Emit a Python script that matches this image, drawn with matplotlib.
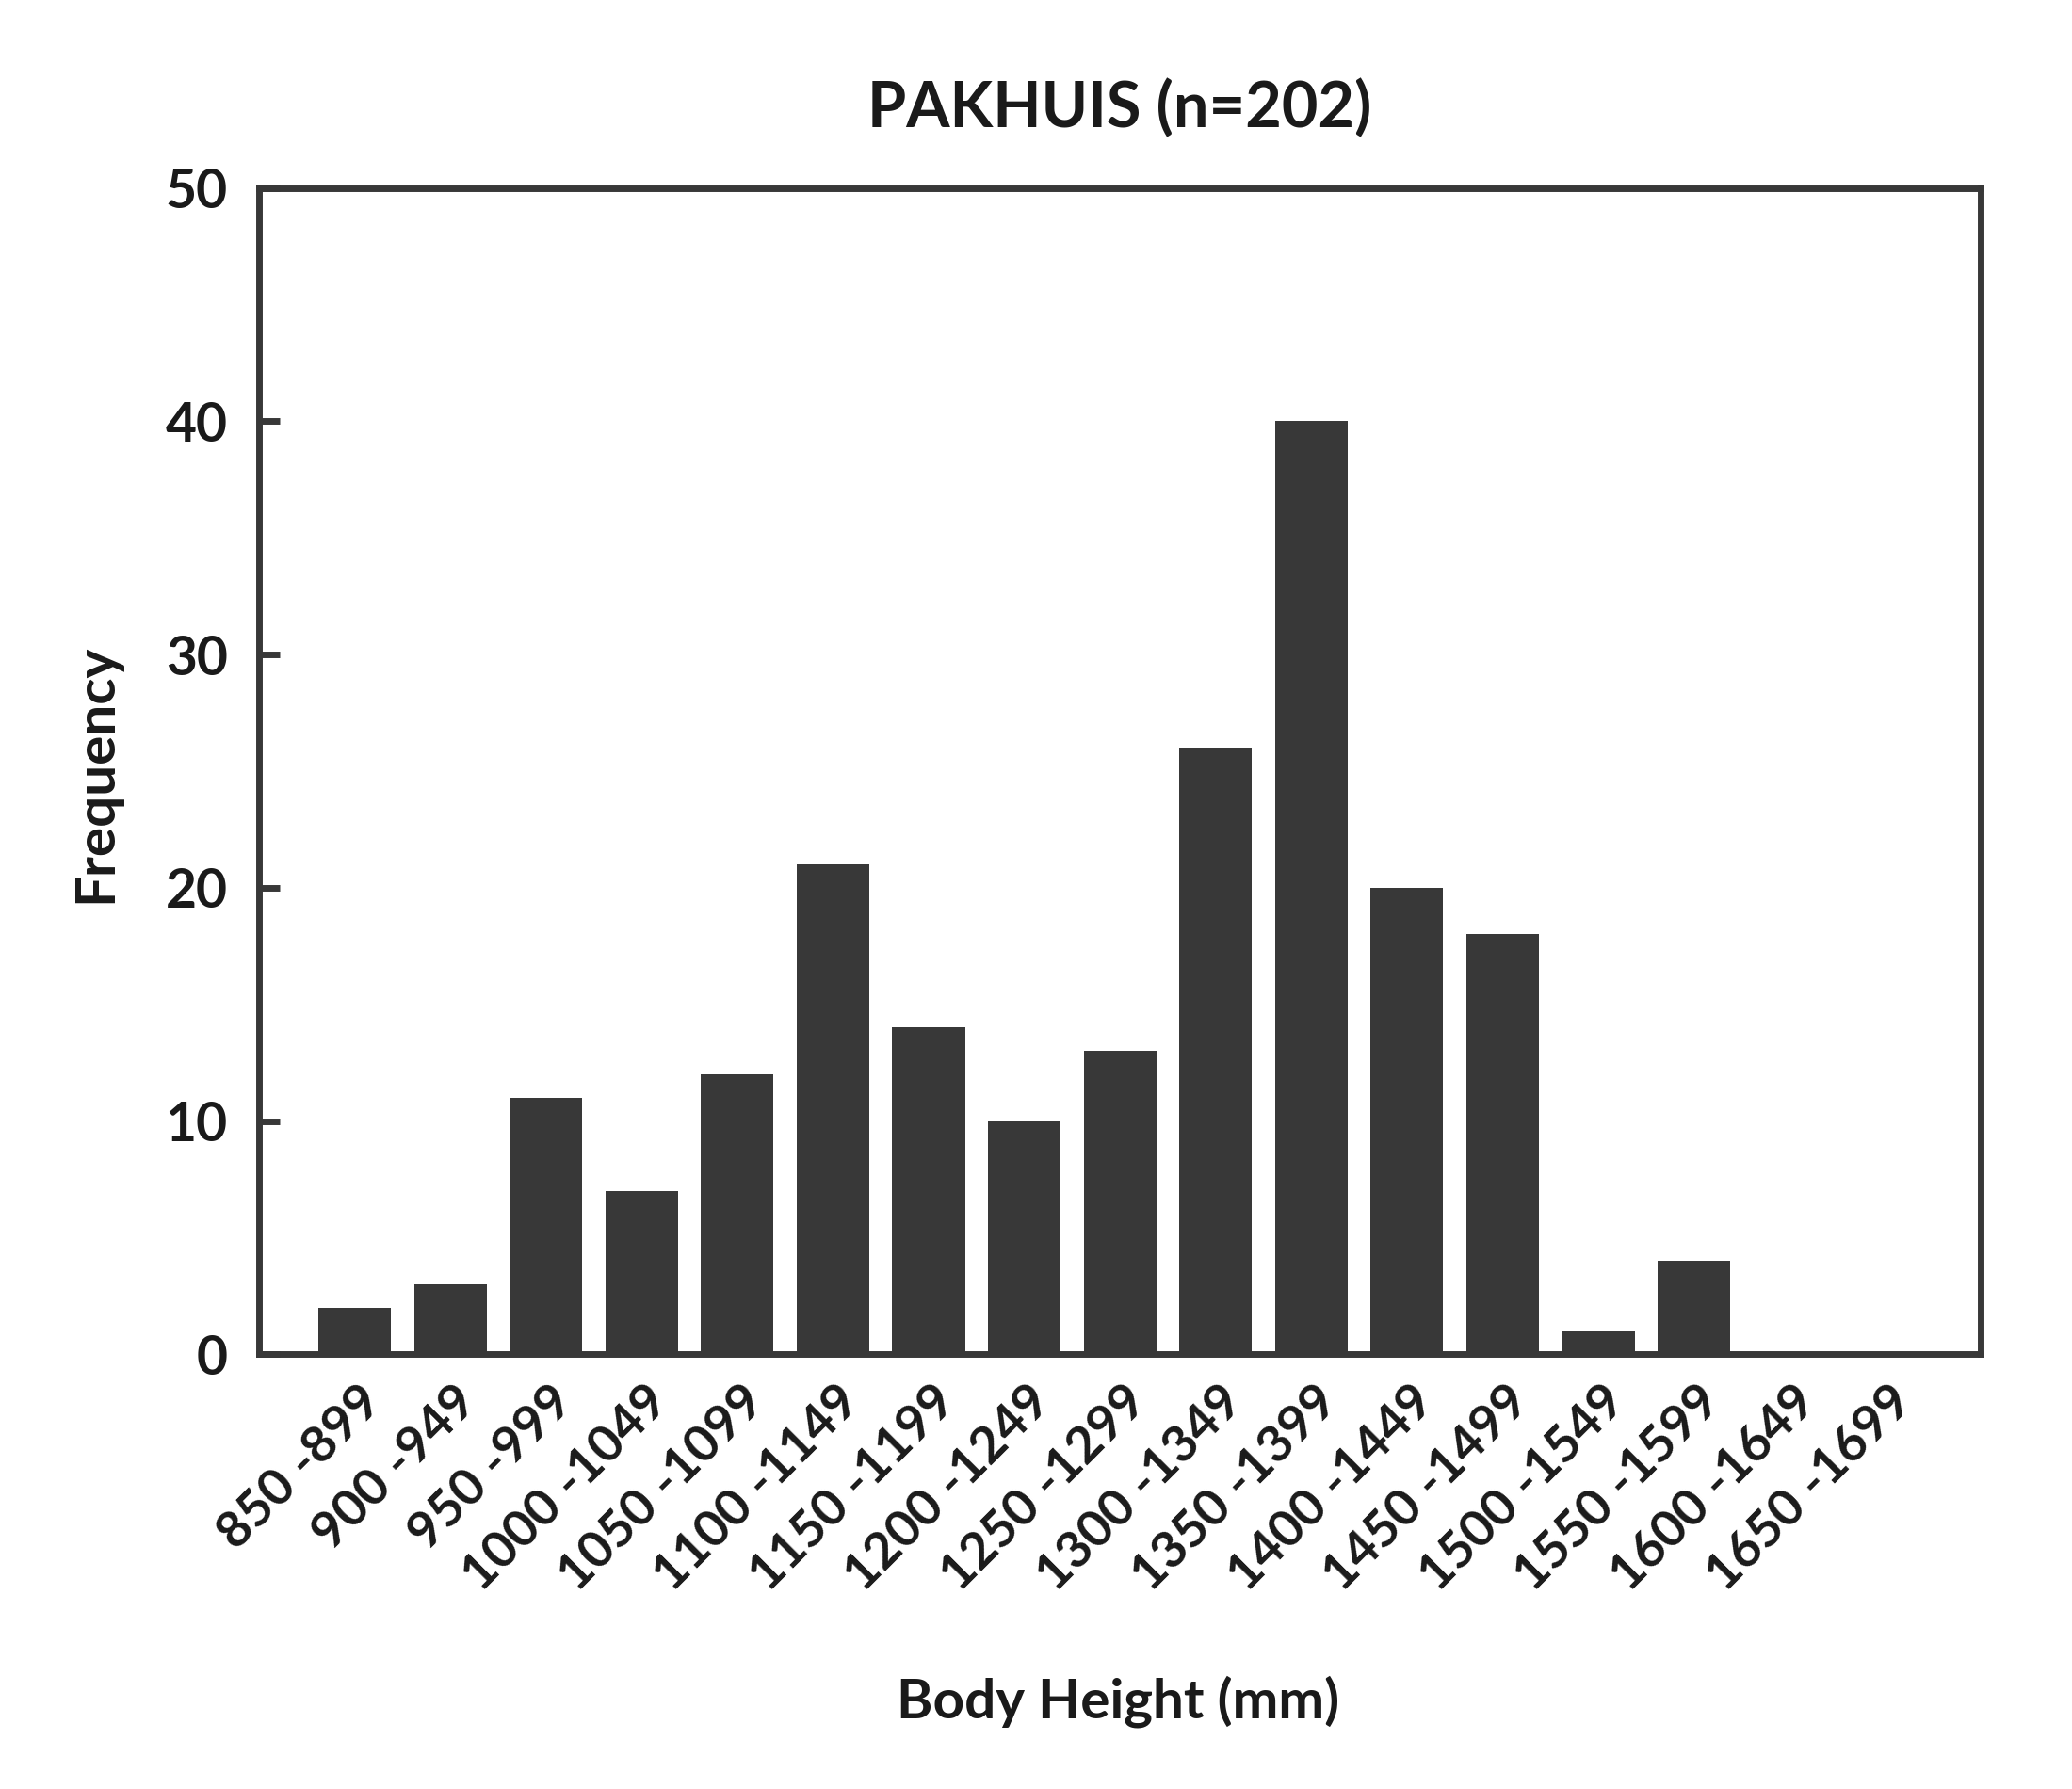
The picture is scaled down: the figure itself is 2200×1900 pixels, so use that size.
import matplotlib
matplotlib.use("Agg")
import matplotlib.pyplot as plt
from matplotlib.transforms import ScaledTranslation

# ---- data ----
bins = ["850 -899", "900 -949", "950 -999", "1000 -1049", "1050 -1099",
        "1100 -1149", "1150 -1199", "1200 -1249", "1250 -1299", "1300 -1349",
        "1350 -1399", "1400 -1449", "1450 -1499", "1500 -1549", "1550 -1599",
        "1600 -1649", "1650 -1699"]
freq = [2, 3, 11, 7, 12, 21, 14, 10, 13, 26, 40, 20, 18, 1, 4, 0, 0]
title = "PAKHUIS (n=202)"

dark = "#383838"
txt = "#1a1a1a"
plt.rcParams['font.family'] = ['Lato', 'DejaVu Sans']
plt.rcParams['font.weight'] = 'bold'

fig = plt.figure(figsize=(22, 19), dpi=100)
ax = fig.add_axes([0.125, 0.243, 0.831, 0.652])

pos = list(range(1, len(bins) + 1))
ax.bar(pos, freq, width=0.76, color=dark)
ax.set_xlim(0, 18)
ax.set_ylim(0, 50)

for s in ax.spines.values():
    s.set_color(dark)
    s.set_linewidth(5)

ax.set_yticks([0, 10, 20, 30, 40, 50])
ax.tick_params(axis='y', direction='in', length=16, width=5, color=dark,
               labelsize=41, labelcolor=txt, pad=24)
ax.set_xticks(pos)
ax.set_xticklabels(bins, rotation=45, ha='right', va='center',
                   rotation_mode='anchor', fontsize=39, color=txt,
                   fontweight='bold')
ax.tick_params(axis='x', length=0, pad=30)
# nudge the slanted labels a little to the right
shift = ScaledTranslation(0.2, 0, fig.dpi_scale_trans)
for lab in ax.get_xticklabels():
    lab.set_transform(lab.get_transform() + shift)

ax.set_xlabel("Body Height (mm)", fontsize=42, fontweight='bold', color=txt)
ax.xaxis.set_label_coords(0.499, -0.275)
ax.set_ylabel("Frequency", fontsize=42, fontweight='bold', color=txt)
ax.yaxis.set_label_coords(-0.080, 0.498)
ax.set_title(title, fontsize=48, fontweight='bold', color=txt, y=1.045)

fig.savefig("out.png", dpi=100, facecolor='white')
